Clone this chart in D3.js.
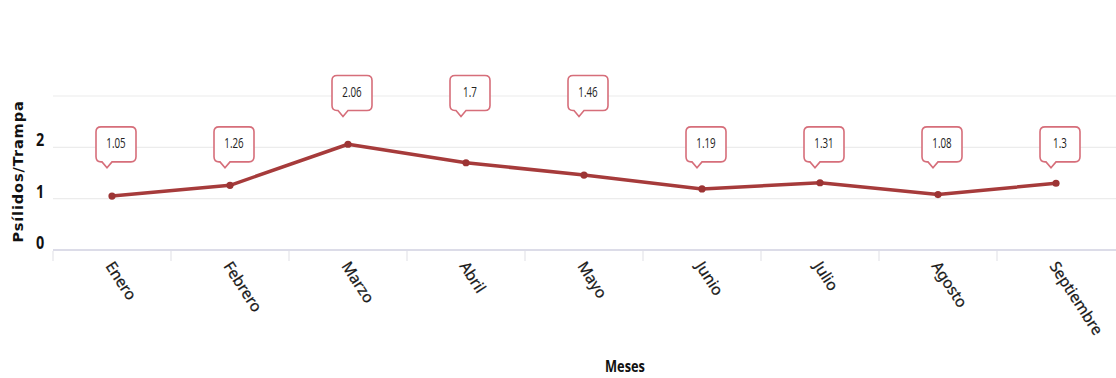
<!DOCTYPE html>
<html>
<head>
<meta charset="utf-8">
<script src="https://cdn.jsdelivr.net/npm/d3@7"></script>
<style>
  html, body { margin: 0; padding: 0; background: #fff; }
  svg { display: block; }
</style>
</head>
<body>
<svg id="chart" width="1116" height="378"></svg>
<script>
const months = ["Enero", "Febrero", "Marzo", "Abril", "Mayo", "Junio", "Julio", "Agosto", "Septiembre"];
const values = [1.05, 1.26, 2.06, 1.7, 1.46, 1.19, 1.31, 1.08, 1.3];
const valueLabels = ["1.05", "1.26", "2.06", "1.7", "1.46", "1.19", "1.31", "1.08", "1.3"];
const yTicks = [0, 1, 2];
const gridTicks = [1, 2, 3];
const yTitle = "Psílidos/Trampa";
const xTitle = "Meses";

const W = 1116, H = 378;
const svg = d3.select("#chart");

const x = d3.scaleBand().domain(months).range([53, 1115]);
const y = d3.scaleLinear().domain([0, 3]).range([250, 96]);
const cx = m => x(m) + x.bandwidth() / 2;

// gridlines
svg.append("g").selectAll("line").data(gridTicks).join("line")
  .attr("x1", 53).attr("x2", W)
  .attr("y1", d => y(d)).attr("y2", d => y(d))
  .attr("stroke", "#ececec").attr("stroke-width", 1.2);

// x axis
const xAxis = d3.axisBottom(x).tickSize(0).tickSizeOuter(0).tickFormat("");
const gx = svg.append("g").attr("transform", `translate(0,${y(0)})`).call(xAxis);
gx.select(".domain").attr("stroke", "#dcdce8").attr("stroke-width", 2).attr("d", `M53,0H${W}`);
gx.selectAll(".tick").remove();
gx.selectAll("line.bnd").data(months).join("line").attr("class", "bnd")
  .attr("x1", d => x(d)).attr("x2", d => x(d))
  .attr("y1", 1).attr("y2", 11)
  .attr("stroke", "#e4e4ea").attr("stroke-width", 1.2);

// x tick labels
svg.append("g").selectAll("text").data(months).join("text")
  .attr("transform", d => `translate(${cx(d) + 2},${y(0) + 10}) rotate(57)`)
  .attr("text-anchor", "start")
  .attr("dy", "0.7em")
  .attr("font-family", "Noto Sans, sans-serif")
  .attr("font-size", 15.5)
  .attr("fill", "#1a1a1a")
  .attr("stroke", "#1a1a1a")
  .attr("stroke-width", 0.25)
  .text(d => d);

// y tick labels
svg.append("g").selectAll("text").data(yTicks).join("text")
  .attr("transform", d => `translate(40,${y(d) - 1}) scale(0.8,1)`)
  .attr("text-anchor", "middle")
  .attr("font-family", "Open Sans, sans-serif")
  .attr("font-weight", 700)
  .attr("font-size", 18)
  .attr("fill", "#111")
  .text(d => d);

// y title
svg.append("text")
  .attr("transform", `translate(23,${(y(0) + 93) / 2}) rotate(-90)`)
  .attr("text-anchor", "middle")
  .attr("font-family", "DejaVu Sans, sans-serif")
  .attr("font-weight", 700)
  .attr("font-size", 14.5)
  .attr("letter-spacing", 0.9)
  .attr("fill", "#111")
  .text(yTitle);

// x title
svg.append("text")
  .attr("transform", `translate(625,372) scale(0.8,1)`)
  .attr("text-anchor", "middle")
  .attr("font-family", "Open Sans, sans-serif")
  .attr("font-weight", 700)
  .attr("font-size", 16)
  .attr("fill", "#111")
  .text(xTitle);

// line
const line = d3.line().x((d, i) => cx(months[i])).y(d => y(d));
svg.append("path").datum(values)
  .attr("d", line)
  .attr("fill", "none")
  .attr("stroke", "#a63b3b")
  .attr("stroke-width", 3.5)
  .attr("stroke-linejoin", "round");

svg.append("g").selectAll("circle").data(values).join("circle")
  .attr("cx", (d, i) => cx(months[i]))
  .attr("cy", d => y(d))
  .attr("r", 3.6)
  .attr("fill", "#9c3434");

// callouts: two label rows depending on value
const rowTip = v => v > 1.4 ? y(2.6) : y(1.6);
const bw = 40, bh = 35, r = 5, tipOff = 11, tipHalf = 5, tipLen = 6;
function callout(bx, by) {
  const p = d3.path();
  p.moveTo(bx + r, by);
  p.lineTo(bx + bw - r, by);
  p.quadraticCurveTo(bx + bw, by, bx + bw, by + r);
  p.lineTo(bx + bw, by + bh - r);
  p.quadraticCurveTo(bx + bw, by + bh, bx + bw - r, by + bh);
  p.lineTo(bx + tipOff + tipHalf, by + bh);
  p.lineTo(bx + tipOff, by + bh + tipLen);
  p.lineTo(bx + tipOff - tipHalf, by + bh);
  p.lineTo(bx + r, by + bh);
  p.quadraticCurveTo(bx, by + bh, bx, by + bh - r);
  p.lineTo(bx, by + r);
  p.quadraticCurveTo(bx, by, bx + r, by);
  p.closePath();
  return p.toString();
}
const cg = svg.append("g").selectAll("g").data(values).join("g")
  .attr("transform", (d, i) => {
    const tipX = cx(months[i]) - 5;
    const tipY = rowTip(d);
    return `translate(${tipX - tipOff},${tipY - bh - tipLen})`;
  });
cg.append("path")
  .attr("d", callout(0, 0))
  .attr("fill", "#fff")
  .attr("stroke", "#d66e7a")
  .attr("stroke-width", 1.6);
cg.append("text")
  .attr("transform", `translate(${bw / 2},${bh / 2 + 4}) scale(0.7,1)`)
  .attr("text-anchor", "middle")
  .attr("font-family", "Open Sans, sans-serif")
  .attr("font-size", 14)
  .attr("fill", "#222")
  .text((d, i) => valueLabels[i]);
</script>
</body>
</html>
